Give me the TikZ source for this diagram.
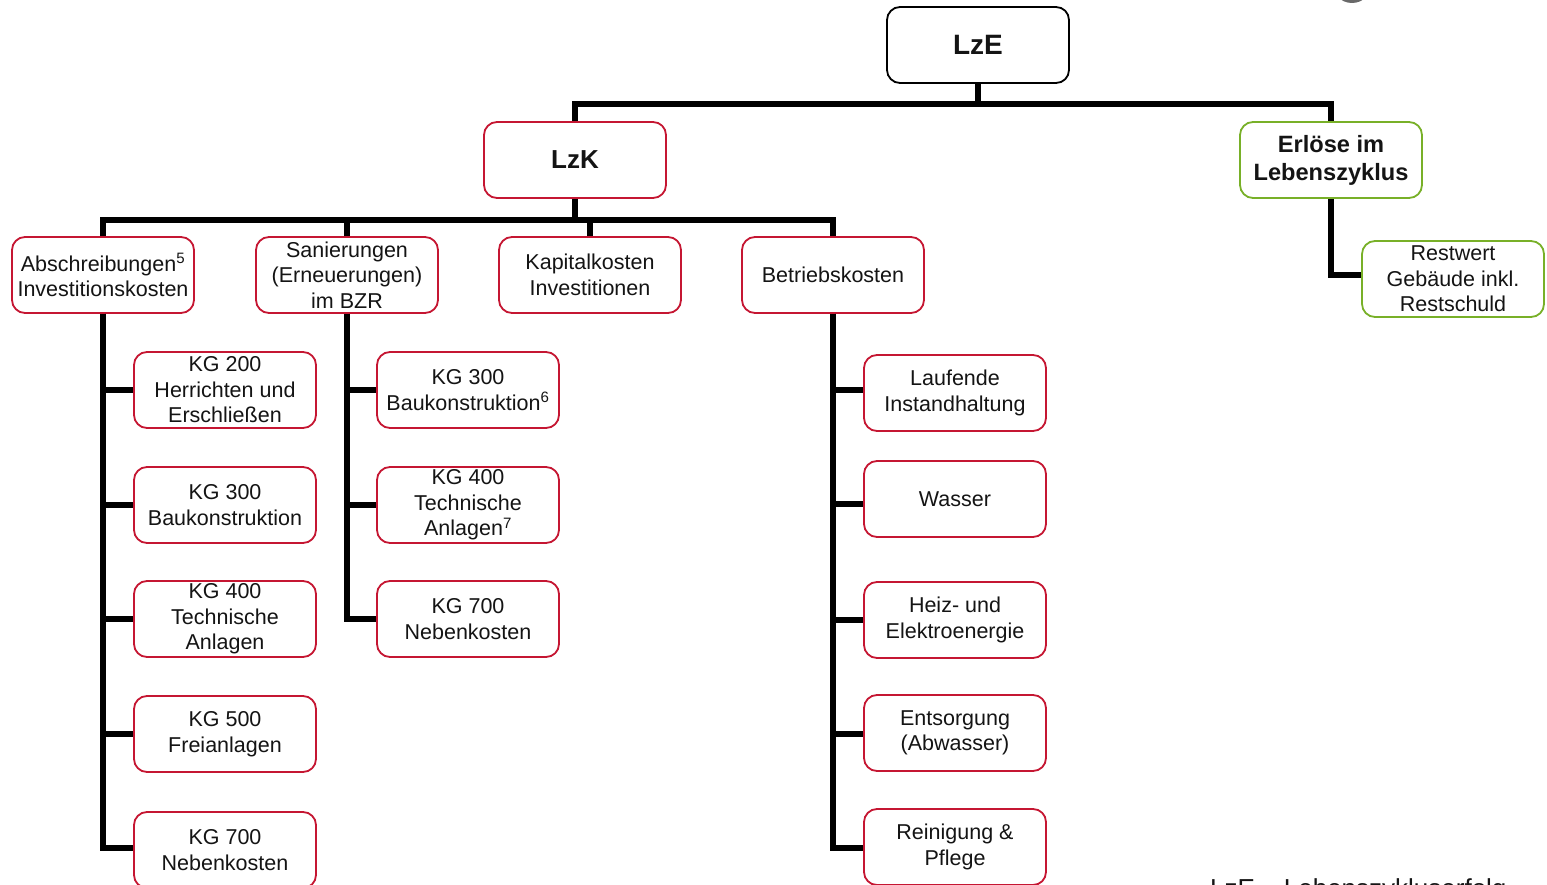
\documentclass[tikz,border=0pt]{standalone}
\usepackage{fontspec}
\setmainfont{Liberation Sans}
\definecolor{boxred}{RGB}{197,22,50}
\definecolor{boxgreen}{RGB}{120,176,40}
\definecolor{txt}{RGB}{20,20,20}
\definecolor{circgrey}{RGB}{105,105,105}
\begin{document}
\begin{tikzpicture}[x=1pt,y=-1pt,
  box/.style={draw, line width=1.8pt, rounded corners=13pt, fill=white,
    minimum width=182pt, minimum height=76pt, inner sep=0pt, align=center,
    text=txt, font=\fontsize{21.5}{25.5}\selectfont},
  redbox/.style={box, draw=boxred},
  greenbox/.style={box, draw=boxgreen},
  blackbox/.style={box, draw=black},
  conn/.style={line width=5.5pt, line join=miter, draw=black}]
\useasboundingbox (0,0) rectangle (1547,885);
\begin{scope}
\clip (0,0) rectangle (1547,885);
\fill[circgrey] (1352,-17) circle[radius=20pt];

% top levels
\node[blackbox, font=\fontsize{28}{32}\selectfont\bfseries] (LzE) at (978,45) {LzE};
\node[redbox, font=\fontsize{26}{30}\selectfont\bfseries] (LzK) at (575,160) {LzK};
\node[greenbox, font=\fontsize{23.6}{28}\selectfont\bfseries] (Erl) at (1331,160) {Erlöse im\\Lebenszyklus};

% third level
\node[redbox] (Ab) at (103,275) {Abschreibungen\textsuperscript{5}\\Investitionskosten};
\node[redbox] (Sa) at (347,275) {Sanierungen\\(Erneuerungen)\\im BZR};
\node[redbox] (Ka) at (590,275) {Kapitalkosten\\Investitionen};
\node[redbox] (Be) at (833,275) {Betriebskosten};
\node[greenbox] (Re) at (1453,279) {Restwert\\Gebäude inkl.\\Restschuld};

% Abschreibungen column
\node[redbox] (A1) at (225,390) {KG 200\\Herrichten und\\Erschließen};
\node[redbox] (A2) at (225,505) {KG 300\\Baukonstruktion};
\node[redbox] (A3) at (225,619) {KG 400\\Technische\\Anlagen};
\node[redbox] (A4) at (225,734) {KG 500\\Freianlagen};
\node[redbox] (A5) at (225,850) {KG 700\\Nebenkosten};

% Sanierungen column
\node[redbox] (S1) at (468,390) {KG 300\\Baukonstruktion\textsuperscript{6}};
\node[redbox] (S2) at (468,505) {KG 400\\Technische\\Anlagen\textsuperscript{7}};
\node[redbox] (S3) at (468,619) {KG 700\\Nebenkosten};

% Betriebskosten column
\node[redbox] (B1) at (955,393) {Laufende\\Instandhaltung};
\node[redbox] (B2) at (955,499) {Wasser};
\node[redbox] (B3) at (955,620) {Heiz- und\\Elektroenergie};
\node[redbox] (B4) at (955,733) {Entsorgung\\(Abwasser)};
\node[redbox] (B5) at (955,847) {Reinigung \&\\Pflege};

% connectors
\coordinate (b1) at (978,104);
\coordinate (b2) at (575,220);
\draw[conn] (LzE.south) -- (b1);
\draw[conn] (LzK.north) -- (LzK.north |- b1) -| (Erl.north);
\draw[conn] (LzK.south) -- (b2);
\draw[conn] (Ab.north) -- (Ab.north |- b2) -| (Be.north);
\draw[conn] (Sa.north) -- (Sa.north |- b2);
\draw[conn] (Ka.north) -- (Ka.north |- b2);
\draw[conn] (Erl.south) |- ([yshift=4pt]Re.west);

\draw[conn] (Ab.south) |- (A1.west);
\draw[conn] (Ab.south) |- (A2.west);
\draw[conn] (Ab.south) |- (A3.west);
\draw[conn] (Ab.south) |- (A4.west);
\draw[conn] (Ab.south) |- ([yshift=2pt]A5.west);

\draw[conn] (Sa.south) |- (S1.west);
\draw[conn] (Sa.south) |- (S2.west);
\draw[conn] (Sa.south) |- (S3.west);

\draw[conn] (Be.south) |- ([yshift=3pt]B1.west);
\draw[conn] (Be.south) |- ([yshift=-5pt]B2.west);
\draw[conn] (Be.south) |- (B3.west);
\draw[conn] (Be.south) |- ([yshift=-1pt]B4.west);
\draw[conn] (Be.south) |- ([yshift=-1pt]B5.west);

\node[anchor=base west, inner sep=0pt, text=txt, font=\fontsize{26}{30}\selectfont] (leg) at (1210,897) {LzE – Lebenszykluserfolg};
\end{scope}
\end{tikzpicture}
\end{document}
